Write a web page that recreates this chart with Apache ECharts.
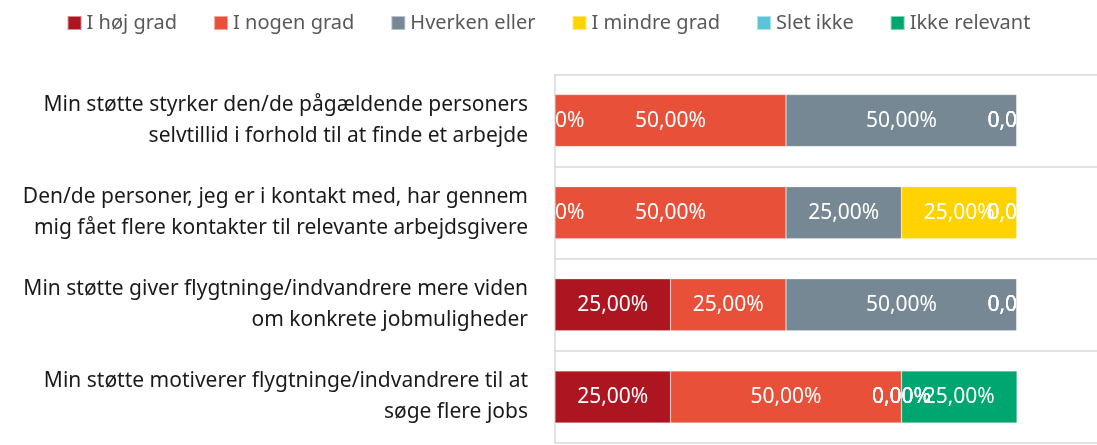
<!DOCTYPE html>
<html>
<head>
<meta charset="utf-8">
<script src="https://cdn.jsdelivr.net/npm/echarts@6/dist/echarts.min.js"></script>
<style>
  html, body { margin: 0; padding: 0; background: #fff; }
  #chart { width: 1097px; height: 445px; }
</style>
</head>
<body>
<div id="chart"></div>
<script>
// spørgsmål, oppefra og ned
const categories = [
  'Min støtte styrker den/de pågældende personers\nselvtillid i forhold til at finde et arbejde',
  'Den/de personer, jeg er i kontakt med, har gennem\nmig fået flere kontakter til relevante arbejdsgivere',
  'Min støtte giver flygtninge/indvandrere mere viden\nom konkrete jobmuligheder',
  'Min støtte motiverer flygtninge/indvandrere til at\nsøge flere jobs'
]
const seriesNames = ['I høj grad', 'I nogen grad', 'Hverken eller', 'I mindre grad', 'Slet ikke', 'Ikke relevant']
const hoejGrad     = [0, 0, 25, 25]
const nogenGrad    = [50, 50, 25, 50]
const hverkenEller = [50, 25, 50, 0]
const mindreGrad   = [0, 25, 0, 0]
const sletIkke     = [0, 0, 0, 0]
const ikkeRelevant = [0, 0, 0, 25]

const colors = ['#ad1620', '#e8503a', '#778895', '#ffd300', '#5bc4da', '#00a66f']
const values = [hoejGrad, nogenGrad, hverkenEller, mindreGrad, sletIkke, ikkeRelevant]

const font = 'Noto Sans'

let myChart = echarts.init(document.getElementById('chart'))

let option = {
  color: colors,
  animation: false,
  legend: {
    top: 8,
    left: 'center',
    itemWidth: 14,
    itemHeight: 14,
    itemGap: 36,
    icon: 'rect',
    textStyle: { color: '#595959', fontSize: 20, fontFamily: font },
    data: seriesNames
  },
  grid: {
    left: 555,
    right: 0,
    top: 74.5,
    bottom: 2
  },
  xAxis: {
    type: 'value',
    min: 0,
    max: 100 * 542 / 462,   // 100 % ender ved x=1017, gitteret fortsætter
    show: false
  },
  yAxis: {
    type: 'category',
    inverse: true,
    data: categories,
    axisTick: { show: false },
    axisLine: { show: true, lineStyle: { color: '#d9d9d9', width: 1.5 } },
    splitLine: { show: true, lineStyle: { color: '#d9d9d9', width: 1.5 } },
    axisLabel: {
      margin: 27,
      color: '#1a1a1a',
      fontSize: 21,
      lineHeight: 31,
      fontFamily: font,
      align: 'right'
    }
  },
  series: seriesNames.map((name, i) => ({
    name: name,
    type: 'bar',
    stack: 'total',
    barWidth: 52,
    data: values[i],
    itemStyle: { borderColor: 'rgba(255,255,255,0.5)', borderWidth: 0.5 },
    label: {
      show: true,
      position: 'inside',
      color: '#fff',
      fontSize: 21,
      fontFamily: font,
      formatter: p => p.value.toFixed(2).replace('.', ',') + '%'
    }
  }))
}

myChart.setOption(option)
</script>
</body>
</html>
